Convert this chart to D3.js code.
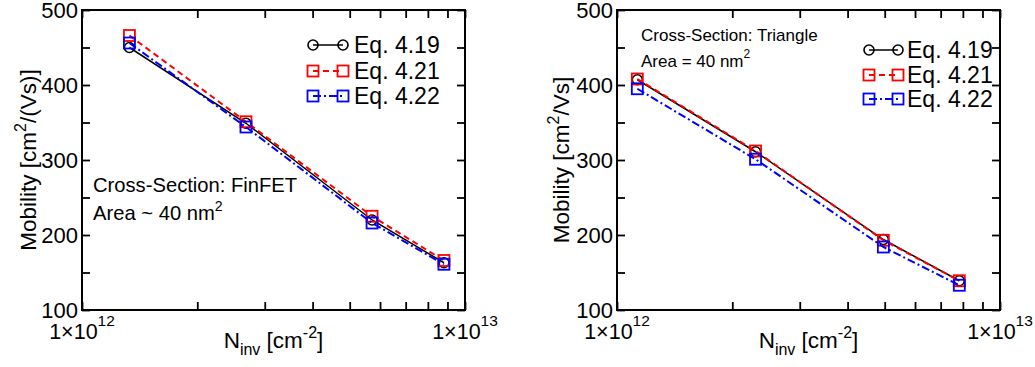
<!DOCTYPE html>
<html>
<head>
<meta charset="utf-8">
<script src="https://cdn.jsdelivr.net/npm/d3@7"></script>
<style>
  html, body { margin: 0; padding: 0; background: #fff; }
  svg { display: block; }
  text { font-family: "Liberation Sans", Arial, Helvetica, sans-serif; fill: #000; }
</style>
</head>
<body>
<svg id="chart" width="1035" height="367"></svg>
<script>
// Inversion charge density [cm^-2] at which mobility was evaluated
const nInvFinFET = [1.33e12, 2.68e12, 5.72e12, 8.81e12];
const nInvTriangle = [1.13e12, 2.30e12, 4.96e12, 7.83e12];

// Mobility [cm^2/Vs], FinFET cross-section
const finEq419 = [450, 349, 220, 163];
const finEq421 = [466, 351, 225, 166];
const finEq422 = [456, 344, 216, 161];

// Mobility [cm^2/Vs], triangular cross-section
const triEq419 = [407, 311, 194, 139];
const triEq421 = [408, 312, 193, 139];
const triEq422 = [395, 301, 184, 133];

const seriesNames = ["Eq. 4.19", "Eq. 4.21", "Eq. 4.22"];
const yTicks = [100, 150, 200, 250, 300, 350, 400, 450, 500];
const xTicks = [1e12, 2e12, 3e12, 4e12, 5e12, 6e12, 7e12, 8e12, 9e12, 1e13];
const xTickLabels = [{ v: 1e12, base: "1\u00d710", exp: "12" }, { v: 1e13, base: "1\u00d710", exp: "13" }];

const styles = [
  { color: "#000", dash: null, width: 1.5, marker: "circle" },
  { color: "#ff0000", dash: "6,4", width: 2, marker: "square" },
  { color: "#0000ff", dash: "8,3,2,3", width: 2, marker: "square" }
];

const panels = [
  {
    x0: 82, x1: 465, y0: 10, y1: 310,
    n: nInvFinFET, series: [finEq419, finEq421, finEq422],
    ylabel: ["Mobility [cm", "2", "/(Vs)]"], ylabelX: 36,
    notes: [
      { x: 93, y: 192, size: 20.2, parts: ["Cross-Section: FinFET"] },
      { x: 93, y: 220, size: 20.2, parts: ["Area ~ 40 nm", "2"] }
    ],
    legend: { m1: 313, m2: 343, tx: 354, rows: [45, 71, 96] }
  },
  {
    x0: 617, x1: 1000, y0: 10, y1: 310,
    n: nInvTriangle, series: [triEq419, triEq421, triEq422],
    ylabel: ["Mobility [cm", "2", "/Vs]"], ylabelX: 569,
    notes: [
      { x: 641, y: 41, size: 17, parts: ["Cross-Section: Triangle"] },
      { x: 641, y: 67, size: 17, parts: ["Area = 40 nm", "2"] }
    ],
    legend: { m1: 869, m2: 898, tx: 907, rows: [50, 75, 99] }
  }
];

const svg = d3.select("#chart");

function drawMarker(g, type, cx, cy, color) {
  if (type === "circle") {
    g.append("circle").attr("cx", cx).attr("cy", cy).attr("r", 5)
      .attr("fill", "none").attr("stroke", color).attr("stroke-width", 1.6);
  } else {
    g.append("rect").attr("x", cx - 5.5).attr("y", cy - 5.5)
      .attr("width", 11).attr("height", 11)
      .attr("fill", "none").attr("stroke", color).attr("stroke-width", 1.8);
  }
}

panels.forEach(p => {
  const x = d3.scaleLog().domain([1e12, 1e13]).range([p.x0, p.x1]);
  const y = d3.scaleLinear().domain([100, 500]).range([p.y1, p.y0]);
  const g = svg.append("g");

  // inward ticks on all four sides
  const fmtY = d => (d % 100 === 0 ? d : "");
  const left = g.append("g").attr("transform", `translate(${p.x0},0)`)
    .call(d3.axisLeft(y).tickValues(yTicks).tickSize(-8).tickPadding(4).tickFormat(fmtY));
  const right = g.append("g").attr("transform", `translate(${p.x1},0)`)
    .call(d3.axisRight(y).tickValues(yTicks).tickSize(-8).tickFormat(""));
  const top = g.append("g").attr("transform", `translate(0,${p.y0})`)
    .call(d3.axisTop(x).tickValues(xTicks).tickSize(-8).tickFormat(""));
  const bottom = g.append("g").attr("transform", `translate(0,${p.y1})`)
    .call(d3.axisBottom(x).tickValues(xTicks).tickSize(-8).tickFormat(""));
  [left, right, top, bottom].forEach(a => {
    a.select(".domain").remove();
    a.selectAll("line").attr("stroke", "#000").attr("stroke-width", 1.8);
  });
  left.selectAll("text").attr("font-size", 22).attr("fill", "#000").attr("dy", "0.36em")
    .attr("font-family", "'Liberation Sans', Arial, Helvetica, sans-serif");

  // frame
  g.append("rect").attr("x", p.x0).attr("y", p.y0)
    .attr("width", p.x1 - p.x0).attr("height", p.y1 - p.y0)
    .attr("fill", "none").attr("stroke", "#000").attr("stroke-width", 2);

  // x tick labels with exponents
  xTickLabels.forEach(t => {
    const tx = g.append("text").attr("x", x(t.v)).attr("y", 339)
      .attr("text-anchor", "middle").attr("font-size", 21.5);
    tx.append("tspan").text(t.base);
    tx.append("tspan").attr("dy", -13).attr("font-size", 15.5).text(t.exp);
  });

  // axis titles
  const xt = g.append("text").attr("x", (p.x0 + p.x1) / 2).attr("y", 348)
    .attr("text-anchor", "middle").attr("font-size", 22.5);
  xt.append("tspan").text("N");
  xt.append("tspan").attr("dy", 7).attr("font-size", 16).text("inv");
  xt.append("tspan").attr("dy", -7).text(" [cm");
  xt.append("tspan").attr("dy", -10).attr("font-size", 16).text("-2");
  xt.append("tspan").attr("dy", 10).text("]");

  const yt = g.append("text")
    .attr("transform", `translate(${p.ylabelX},${(p.y0 + p.y1) / 2}) rotate(-90)`)
    .attr("text-anchor", "middle").attr("font-size", 22.5);
  yt.append("tspan").text(p.ylabel[0]);
  yt.append("tspan").attr("dy", -10).attr("font-size", 16).text(p.ylabel[1]);
  yt.append("tspan").attr("dy", 10).text(p.ylabel[2]);

  // annotations
  p.notes.forEach(nt => {
    const t = g.append("text").attr("x", nt.x).attr("y", nt.y).attr("font-size", nt.size);
    t.append("tspan").text(nt.parts[0]);
    if (nt.parts[1]) {
      t.append("tspan").attr("dy", -9).attr("font-size", nt.size * 0.7).text(nt.parts[1]);
    }
  });

  // data series
  const line = d3.line().x(d => x(d[0])).y(d => y(d[1]));
  p.series.forEach((vals, i) => {
    const s = styles[i];
    const pts = p.n.map((v, k) => [v, vals[k]]);
    g.append("path").datum(pts).attr("d", line)
      .attr("fill", "none").attr("stroke", s.color).attr("stroke-width", s.width)
      .attr("stroke-dasharray", s.dash);
    pts.forEach(d => drawMarker(g, s.marker, x(d[0]), y(d[1]), s.color));
  });

  // legend
  const L = p.legend;
  seriesNames.forEach((name, i) => {
    const s = styles[i];
    const ry = L.rows[i];
    g.append("line").attr("x1", L.m1).attr("x2", L.m2).attr("y1", ry).attr("y2", ry)
      .attr("stroke", s.color).attr("stroke-width", s.width).attr("stroke-dasharray", s.dash);
    drawMarker(g, s.marker, L.m1, ry, s.color);
    drawMarker(g, s.marker, L.m2, ry, s.color);
    g.append("text").attr("x", L.tx).attr("y", ry + 8).attr("font-size", 23).text(name);
  });
});
</script>
</body>
</html>
